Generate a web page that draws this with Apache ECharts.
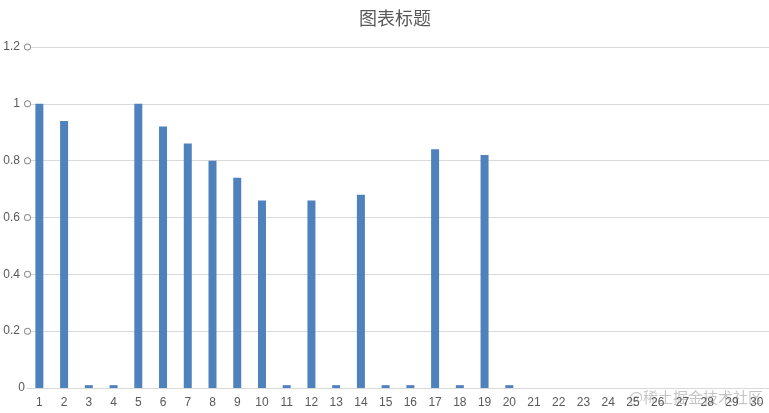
<!DOCTYPE html>
<html>
<head>
<meta charset="utf-8">
<script src="https://cdn.jsdelivr.net/npm/echarts@6/dist/echarts.min.js"></script>
<style>html,body{margin:0;padding:0;background:#fff}#c{width:769px;height:413px}</style>
</head>
<body>
<div id="c"></div>
<script>
const categories = ['1','2','3','4','5','6','7','8','9','10','11','12','13','14','15','16','17','18','19','20','21','22','23','24','25','26','27','28','29','30'];
const values = [1.0,0.94,0.01,0.01,1.0,0.92,0.86,0.80,0.74,0.66,0.01,0.66,0.01,0.68,0.01,0.01,0.84,0.01,0.82,0.01,0,0,0,0,0,0,0,0,0,0];
const titleText = '图表标题';
const watermark = '@稀土掘金技术社区';

const chart = echarts.init(document.getElementById('c'));
chart.setOption({
  backgroundColor: '#fff',
  animation: false,
  title: {
    text: titleText,
    left: 354,
    top: 4,
    textStyle: {fontFamily: 'Noto Sans CJK SC', fontSize: 18, fontWeight: 'normal', color: '#595959'}
  },
  grid: {left: 27, top: 47, width: 746, height: 341, containLabel: false},
  xAxis: {
    type: 'category',
    data: categories,
    axisLine: {lineStyle: {color: '#d9d9d9'}},
    axisTick: {show: false},
    axisLabel: {color: '#595959', fontSize: 12, fontFamily: 'Liberation Sans', margin: 9, interval: 0}
  },
  yAxis: {
    type: 'value',
    min: 0, max: 1.2, interval: 0.2,
    axisLine: {show: false},
    axisTick: {show: false},
    splitLine: {lineStyle: {color: '#d9d9d9'}},
    axisLabel: {
      margin: -3,
      formatter: function (v) { return v === 0 ? '{a|0}' : '{a|' + v + '}{c|}'; },
      rich: {
        a: {color: '#595959', fontSize: 12, fontFamily: 'Liberation Sans', padding: [0, 5, 0, 0]},
        c: {width: 5, height: 5, borderRadius: 3, borderWidth: 1, borderColor: '#8c8c8c', backgroundColor: '#fff'}
      }
    }
  },
  series: [{
    type: 'bar',
    data: values,
    barWidth: 8,
    itemStyle: {color: '#4f81bd'}
  }],
  graphic: [{
    type: 'text',
    right: 6,
    top: 390,
    style: {text: watermark, fontFamily: 'Noto Sans CJK SC', fontSize: 15, fill: 'rgba(150,150,150,0.55)'}
  }]
});
</script>
</body>
</html>
